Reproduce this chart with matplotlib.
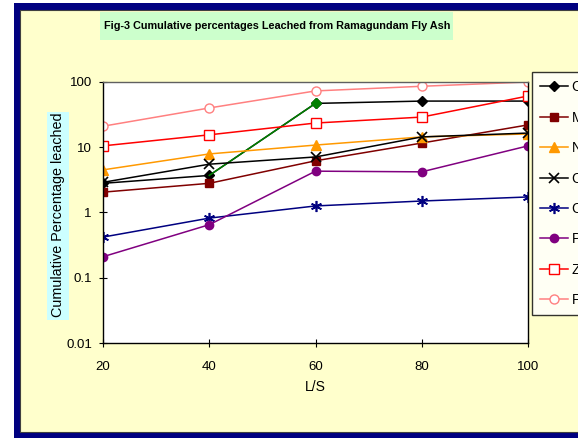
import matplotlib
matplotlib.use("Agg")
import matplotlib.pyplot as plt
from matplotlib.patches import Rectangle

plt.rcParams['font.family'] = ['Liberation Sans', 'DejaVu Sans']

ls = [20, 40, 60, 80, 100]
cr = [2.8, 3.7, 47, 51, 51]
mn = [2.05, 2.8, 6.2, 11.6, 22]
ni = [4.5, 7.9, 10.8, 14.4, 16]
cu = [2.9, 5.5, 7.1, 14.4, 16.5]
co = [0.42, 0.82, 1.26, 1.5, 1.73]
pb = [0.21, 0.65, 4.3, 4.2, 10.5]
zn = [10.5, 15.5, 23.5, 29, 61]
fe = [21, 40, 73, 86, 100]

fig = plt.figure(figsize=(5.78, 4.38), dpi=100)
fig.patch.set_facecolor('white')
fig.patches.append(Rectangle((14/578, 0), 1, 1 - 3/438, transform=fig.transFigure,
                             facecolor='#000080', edgecolor='none', zorder=-3))
fig.patches.append(Rectangle((20/578, 6/438), 1, 1 - 16/438, transform=fig.transFigure,
                             facecolor='#FFFFCC', edgecolor='#404040', lw=0.8, zorder=-2))
# title background
fig.patches.append(Rectangle((100/578, 1 - 40/438), 353/578, 28/438, transform=fig.transFigure,
                             facecolor='#CCFFCC', edgecolor='none', zorder=-1))
# y label background
fig.patches.append(Rectangle((47/578, 1 - 320/438), 22/578, 208/438, transform=fig.transFigure,
                             facecolor='#CCFFFF', edgecolor='none', zorder=-1))

ax = fig.add_axes([103/578, 1 - 343/438, 425/578, 261/438])
ax.set_facecolor('white')

lw = 1.1
ax.plot(ls, cr, color='black', lw=lw, marker='D', ms=5, label='Cr')
ax.plot(ls[1:3], cr[1:3], color='#008000', lw=lw)
ax.plot(ls[2], cr[2], color='#008000', marker='D', ms=5, ls='none')
ax.plot(ls, mn, color='#800000', lw=lw, marker='s', ms=6, label='Mn')
ax.plot(ls, ni, color='#FF9900', lw=lw, marker='^', ms=7, label='Ni')
ax.plot(ls, cu, color='black', lw=lw, marker='x', ms=7, mew=1.2, label='Cu')
ax.plot(ls, co, color='#000080', lw=lw, marker=(6, 2, 0), ms=8, mew=1.2, label='Co')
ax.plot(ls, pb, color='#800080', lw=lw, marker='o', ms=6, label='Pb')
ax.plot(ls, zn, color='#FF0000', lw=lw, marker='s', ms=6.5, mfc='white', mew=1.0, label='Zn')
ax.plot(ls, fe, color='#FF8080', lw=lw, marker='o', ms=6.5, mfc='white', mew=1.0, label='Fe')

ax.set_yscale('log')
ax.set_ylim(0.01, 100)
ax.set_xlim(20, 100)
ax.set_xticks(ls)
ax.set_yticks([0.01, 0.1, 1, 10, 100])
ax.set_yticklabels(['0.01', '0.1', '1', '10', '100'])
ax.minorticks_off()
ax.tick_params(direction='inout', length=6, width=0.8, labelsize=9.5, pad=5)
ax.tick_params(axis='x', pad=10)
for s in ['left', 'bottom', 'right']:
    ax.spines[s].set_color('black')
ax.spines['top'].set_color('#606060')
for s in ax.spines.values():
    s.set_linewidth(1.0)

ax.set_xlabel('L/S', fontsize=10, labelpad=5)
fig.text(58/578, 1 - 215/438, 'Cumulative Percentage leached', rotation=90, fontsize=10.4,
         ha='center', va='center')
fig.text(277/578, 1 - 26/438, 'Fig-3 Cumulative percentages Leached from Ramagundam Fly Ash',
         fontsize=7.8, fontweight='bold', ha='center', va='center')

leg = ax.legend(loc='upper left', bbox_to_anchor=(532/578, 1 - 72/438), bbox_transform=fig.transFigure,
                frameon=True, fancybox=False, edgecolor='black', facecolor='white',
                fontsize=10, labelspacing=1.18, handlelength=2.0, borderpad=0.6, handletextpad=0.25,
                borderaxespad=0)
leg.get_frame().set_linewidth(1.0)

fig.savefig('out.png', dpi=100)
